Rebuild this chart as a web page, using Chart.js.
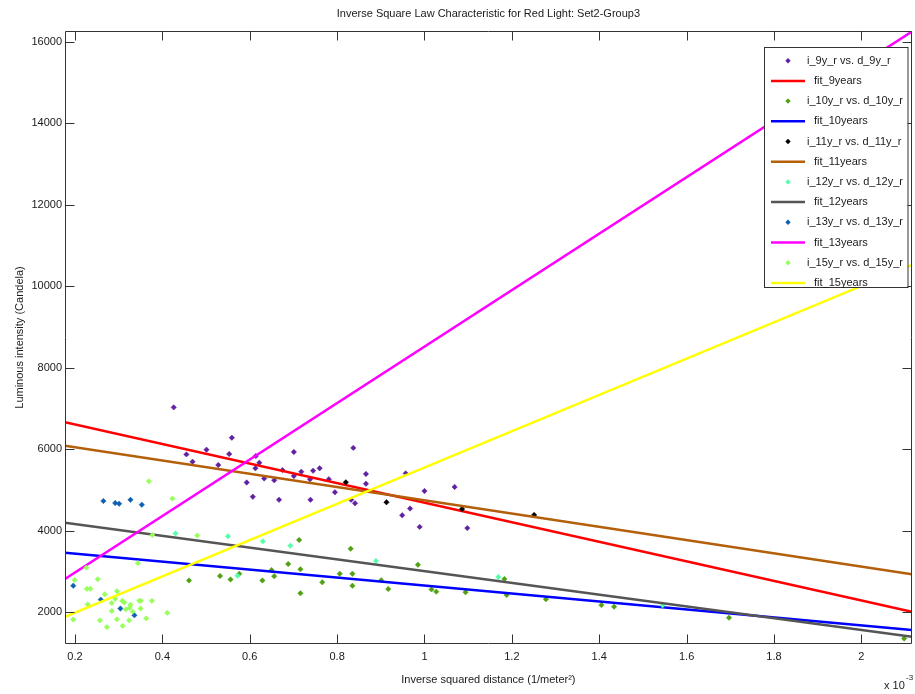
<!DOCTYPE html>
<html>
<head>
<meta charset="utf-8">
<script src="https://cdn.jsdelivr.net/npm/chart.js@4/dist/chart.umd.min.js"></script>
<style>
  html, body { margin: 0; padding: 0; background: #ffffff; }
  #wrap { width: 915px; height: 694px; }
</style>
</head>
<body>
<div id="wrap"><canvas id="c" width="915" height="694"></canvas></div>
<script>
// ---- axis ranges and ticks (x in units of 10^-3 1/m^2) ----
const X_MIN = 0.1771, X_MAX = 2.1155;
const Y_MIN = 1215, Y_MAX = 16265;
const xTicks = [0.2, 0.4, 0.6, 0.8, 1, 1.2, 1.4, 1.6, 1.8, 2];
const yTicks = [2000, 4000, 6000, 8000, 10000, 12000, 14000, 16000];

const titleText = "Inverse Square Law Characteristic for Red Light: Set2-Group3";
const xTitle = "Inverse squared distance (1/meter\u00B2)";
const yTitle = "Luminous intensity (Candela)";

// ---- measured points [x, intensity] ----
const i9 = [[0.426,7025],[0.559,6280],[0.501,5985],[0.455,5870],[0.553,5880],[0.469,5690],[0.528,5610],
  [0.614,5830],[0.622,5665],[0.613,5530],[0.633,5280],[0.656,5235],[0.593,5180],[0.607,4830],[0.667,4755],
  [0.675,5485],[0.701,5930],[0.837,6030],[0.701,5340],[0.718,5445],[0.745,5470],[0.760,5530],[0.738,5260],
  [0.781,5260],[0.795,4940],[0.739,4755],[0.832,4755],[0.841,4670],[0.866,5390],[0.866,5150],[0.957,5405],
  [0.967,4540],[0.949,4375],[1.000,4970],[1.069,5070],[0.989,4090],[1.098,4060]];
const i10 = [[0.461,2775],[0.532,2885],[0.556,2800],[0.576,2940],[0.629,2775],[0.656,2880],[0.688,3180],
  [0.650,3030],[0.713,3770],[0.716,3050],[0.716,2460],[0.766,2730],[0.806,2940],[0.835,2940],[0.835,2645],
  [0.831,3555],[0.917,2565],[0.901,2780],[0.985,3160],[1.016,2555],[1.027,2500],[1.094,2485],[1.183,2810],
  [1.188,2415],[1.278,2315],[1.405,2170],[1.434,2130],[1.697,1860],[2.098,1350]];
const i11 = [[0.820,5185],[0.913,4695],[1.086,4530],[1.251,4385]];
const i12 = [[0.430,3930],[0.550,3860],[0.630,3735],[0.572,2890],[0.693,3630],[0.889,3255],[1.169,2860],[1.545,2165]];
const i13 = [[0.265,4725],[0.292,4675],[0.301,4660],[0.327,4755],[0.353,4635],[0.196,2645],[0.259,2305],
  [0.304,2085],[0.336,1920]];
const i15 = [[0.369,5210],[0.423,4785],[0.377,3890],[0.480,3880],[0.344,3200],[0.226,3090],[0.199,2785],
  [0.252,2805],[0.227,2570],[0.235,2570],[0.229,2185],[0.268,2435],[0.296,2510],[0.284,2220],[0.292,2325],
  [0.308,2275],[0.313,2235],[0.327,2180],[0.325,2105],[0.347,2275],[0.351,2275],[0.350,2085],[0.376,2275],
  [0.411,1980],[0.196,1815],[0.257,1795],[0.273,1630],[0.284,2025],[0.296,1820],[0.309,1660],[0.316,2065],
  [0.324,1795],[0.332,2010],[0.363,1845]];

// ---- fitted lines: value at X_MIN and at X_MAX (order 9,10,11,12,13,15 years) ----
const fitNames = ["fit_9years","fit_10years","fit_11years","fit_12years","fit_13years","fit_15years"];
const fitLeft  = [6657, 3455, 6082, 4192, 2810, 1884];
const fitRight = [2007, 1558, 2925, 1393, 16250, 10518];

const scatterNames = ["i_9y_r vs. d_9y_r","i_10y_r vs. d_10y_r","i_11y_r vs. d_11y_r",
  "i_12y_r vs. d_12y_r","i_13y_r vs. d_13y_r","i_15y_r vs. d_15y_r"];
const scatterSets = [i9, i10, i11, i12, i13, i15];
const scatterColors = ["#6020a0","#50a014","#000000","#55ffaa","#1060b0","#96ff5a"];
const fitColors = ["#ff0000","#0000ff","#b45f0a","#555555","#ff00ff","#ffff00"];

const FONT = "'Liberation Sans', Arial, Helvetica, sans-serif";

const datasets = [];
for (let k = 0; k < 6; k++) {
  datasets.push({
    label: scatterNames[k], kind: 'pt',
    data: scatterSets[k].map(p => ({x: p[0], y: p[1]})),
    pointStyle: 'rectRot', pointRadius: 2.7, pointHoverRadius: 2.7,
    backgroundColor: scatterColors[k], borderColor: scatterColors[k], borderWidth: 0.5,
    showLine: false
  });
  datasets.push({
    label: fitNames[k], kind: 'line',
    data: [{x: X_MIN, y: fitLeft[k]}, {x: X_MAX, y: fitRight[k]}],
    showLine: true, pointRadius: 0, borderColor: fitColors[k], backgroundColor: fitColors[k],
    borderWidth: 2.5, tension: 0
  });
}
datasets.forEach((d, i) => { d.order = datasets.length - i; });

const decor = {
  id: 'decor',
  afterDatasetsDraw(chart) {
    const ctx = chart.ctx, a = chart.chartArea, xs = chart.scales.x, ys = chart.scales.y;
    ctx.save();
    ctx.strokeStyle = '#333333';
    ctx.lineWidth = 1;
    const L = Math.round(a.left) + 0.5, R = Math.round(a.right) - 0.5;
    const T = Math.round(a.top) + 0.5, B = Math.round(a.bottom) - 0.5;
    ctx.beginPath();
    ctx.rect(L, T, R - L, B - T);
    const tl = 9;
    xs.ticks.forEach(t => {
      const px = Math.round(xs.getPixelForValue(t.value)) + 0.5;
      ctx.moveTo(px, B); ctx.lineTo(px, B - tl);
      ctx.moveTo(px, T); ctx.lineTo(px, T + tl);
    });
    ys.ticks.forEach(t => {
      const py = Math.round(ys.getPixelForValue(t.value)) + 0.5;
      ctx.moveTo(L, py); ctx.lineTo(L + tl, py);
      ctx.moveTo(R, py); ctx.lineTo(R - tl, py);
    });
    ctx.stroke();

    // title
    ctx.fillStyle = '#1a1a1a';
    ctx.font = '11px ' + FONT;
    ctx.textAlign = 'center';
    ctx.textBaseline = 'middle';
    ctx.fillText(titleText, (a.left + a.right) / 2, 14);

    // exponent label
    ctx.textAlign = 'left';
    ctx.fillText('x 10', 884, 686);
    ctx.font = '8px ' + FONT;
    ctx.fillText('-3', 906, 678);

    // legend
    const bx = 764, by = 47, bw = 143.5, bh = 240;
    ctx.fillStyle = '#ffffff';
    ctx.fillRect(bx, by, bw, bh);
    ctx.strokeStyle = '#333333';
    ctx.strokeRect(bx + 0.5, by + 0.5, bw, bh);
    ctx.font = '11px ' + FONT;
    ctx.textBaseline = 'middle';
    ctx.textAlign = 'left';
    chart.data.datasets.forEach((d, i) => {
      const yy = 60.7 + i * 20.2;
      if (d.kind === 'pt') {
        ctx.fillStyle = d.backgroundColor;
        ctx.beginPath();
        ctx.moveTo(788, yy - 2.7); ctx.lineTo(790.7, yy); ctx.lineTo(788, yy + 2.7); ctx.lineTo(785.3, yy);
        ctx.closePath(); ctx.fill();
        ctx.fillStyle = '#1a1a1a';
        ctx.fillText(d.label, 807, yy);
      } else {
        ctx.strokeStyle = d.borderColor;
        ctx.lineWidth = 2.5;
        ctx.beginPath(); ctx.moveTo(771, yy); ctx.lineTo(805, yy); ctx.stroke();
        ctx.fillStyle = '#1a1a1a';
        ctx.fillText(d.label, 814, yy);
      }
    });
    ctx.restore();
  }
};

new Chart(document.getElementById('c'), {
  type: 'scatter',
  data: { datasets },
  options: {
    responsive: false,
    animation: false,
    devicePixelRatio: 1,
    layout: { padding: { top: 31, right: 2.5, left: 0, bottom: 0 } },
    plugins: { legend: { display: false }, tooltip: { enabled: false }, title: { display: false } },
    scales: {
      x: {
        type: 'linear', min: X_MIN, max: X_MAX,
        afterBuildTicks: s => { s.ticks = xTicks.map(v => ({ value: v })); },
        afterFit: s => { s.height = 50; },
        grid: { display: false, drawTicks: false },
        border: { display: false },
        ticks: { color: '#1a1a1a', font: { size: 11, family: FONT }, padding: 6, maxRotation: 0,
                 autoSkip: false, callback: v => String(v) },
        title: { display: true, text: xTitle, color: '#1a1a1a', font: { size: 11, family: FONT },
                 padding: { top: 0, bottom: 7 } }
      },
      y: {
        type: 'linear', min: Y_MIN, max: Y_MAX,
        afterBuildTicks: s => { s.ticks = yTicks.map(v => ({ value: v })); },
        afterFit: s => { s.width = 65; },
        grid: { display: false, drawTicks: false },
        border: { display: false },
        ticks: { color: '#1a1a1a', font: { size: 11, family: FONT }, padding: 3,
                 autoSkip: false, callback: v => String(v) },
        title: { display: true, text: yTitle, color: '#1a1a1a', font: { size: 11, family: FONT },
                 padding: { top: 13, bottom: 0 } }
      }
    }
  },
  plugins: [decor]
});
</script>
</body>
</html>
